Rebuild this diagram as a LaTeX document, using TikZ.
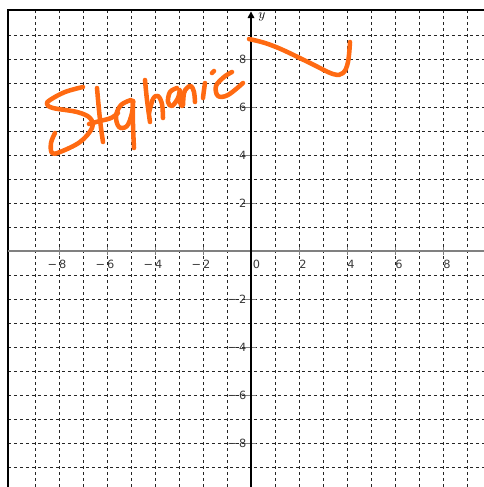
\documentclass[tikz,border=0pt]{standalone}
\usepackage{fontspec}
\setmainfont{DejaVu Sans}
\definecolor{ink}{HTML}{FF6A12}
\definecolor{lbl}{HTML}{3A3A3A}
\definecolor{axisgray}{HTML}{808080}
\tikzset{
  gridline/.style={line width=0.75pt, draw=black!85, dash pattern=on 2.25pt off 2.25pt},
  frameline/.style={line width=1.6pt, draw=black},
  tickline/.style={line width=0.75pt, draw=axisgray},
  numlbl/.style={font=\fontsize{8.5}{9}\selectfont, text=lbl, inner sep=0pt},
  pen/.style={draw=ink, line width=3.4pt, line cap=round, line join=round},
}
\begin{document}
\begin{tikzpicture}[x=0.75pt,y=-0.75pt]
\useasboundingbox (0,0) rectangle (484,487);
% grid
\foreach \k in {-9,...,-1,1,2,...,9}{
  \draw[gridline] ({251+24*\k},10) -- ({251+24*\k},487);
  \draw[gridline] (8,{251+24*\k}) -- (484,{251+24*\k});
}
% frame
\draw[frameline] (8,487) -- (8,10) -- (484,10);
% x axis
\draw[line width=1.1pt, draw=axisgray] (8,251) -- (484,251);
\foreach \k in {-8,-6,-4,-2,2,4,6,8}{
  \draw[tickline] ({251+24*\k},247) -- ({251+24*\k},255);
  \draw[tickline] (245,{251+24*\k}) -- (256,{251+24*\k});
}
% y axis
\coordinate (ytop) at (251,17);
\coordinate (ybot) at (251,487);
\draw[line width=1pt] (ybot) -- (ytop);
\fill (247.5,18) -- (251,11.5) -- (254.5,18) -- cycle;
\node[inner sep=0pt, anchor=west] (ylab) at (258,17) {\fontsize{10}{10}\selectfont$y$};
\node[inner sep=0pt, anchor=center] (xlab) at (488,238) {\fontsize{10}{10}\selectfont$x$};
% x labels
\foreach \k in {-8,-6,-4,-2}{
  \node[numlbl] (xl\k) at ({251+24*\k-2},264) {−\,\the\numexpr-\k\relax};
}
\node[numlbl] (xl0) at (256.5,264) {0};
\foreach \k in {2,4,6,8}{
  \node[numlbl] (xl\k) at ({251+24*\k+4},264) {\k};
}
% y labels
\foreach \k in {2,4,6,8}{
  \node[numlbl, anchor=east] (ylp\k) at (246.5,{251-24*\k}) {\k};
  \node[numlbl, anchor=east] (yln\k) at (246.5,{251+24*\k}) {−\,\k};
}
% handwriting: Stephanie
\draw[pen] plot[smooth, tension=0.6] coordinates {(83,87) (65,92) (50,100) (47,104) (53,108) (77,112) (90,118) (92,128) (80,142) (60,152) (52,153) (51,143) (55,133)};
\draw[pen] plot[smooth, tension=0.6] coordinates {(97,88) (99,110) (101,128) (103,142)};
\draw[pen] plot[smooth, tension=0.6] coordinates {(89,124) (100,121) (111,118) (118,113)};
\draw[pen] plot[smooth, tension=0.6] coordinates {(131,100) (121,105) (116,116) (119,127) (127,126) (132,113) (133,101)};
\draw[pen] plot[smooth, tension=0.6] coordinates {(133,101) (133,125) (134,148)};
\draw[pen] plot[smooth, tension=0.6] coordinates {(145,80) (147,100) (150,122)};
\draw[pen] plot[smooth, tension=0.6] coordinates {(149,113) (153,99) (158,96) (162,104) (163,118)};
\draw[pen] plot[smooth, tension=0.6] coordinates {(177,88) (170,92) (168,102) (172,106) (178,98) (180,90) (180,102) (182,106)};
\draw[pen] plot[smooth, tension=0.6] coordinates {(183,105) (184,93) (187,88) (191,86) (194,92) (195,102)};
\draw[pen] plot[smooth, tension=0.6] coordinates {(203,98) (204,90) (205,83)};
\draw[pen] (212,73) -- (214,71);
\draw[pen] plot[smooth, tension=0.6] coordinates {(232,72) (224,77) (216,86) (218,96) (228,95) (243,83)};
% curve near top
\draw[pen] plot[smooth, tension=0.6] coordinates {(249,39) (265,43) (283,50) (310,63) (333,74) (343,73) (348,62) (350,42)};
\end{tikzpicture}
\end{document}
